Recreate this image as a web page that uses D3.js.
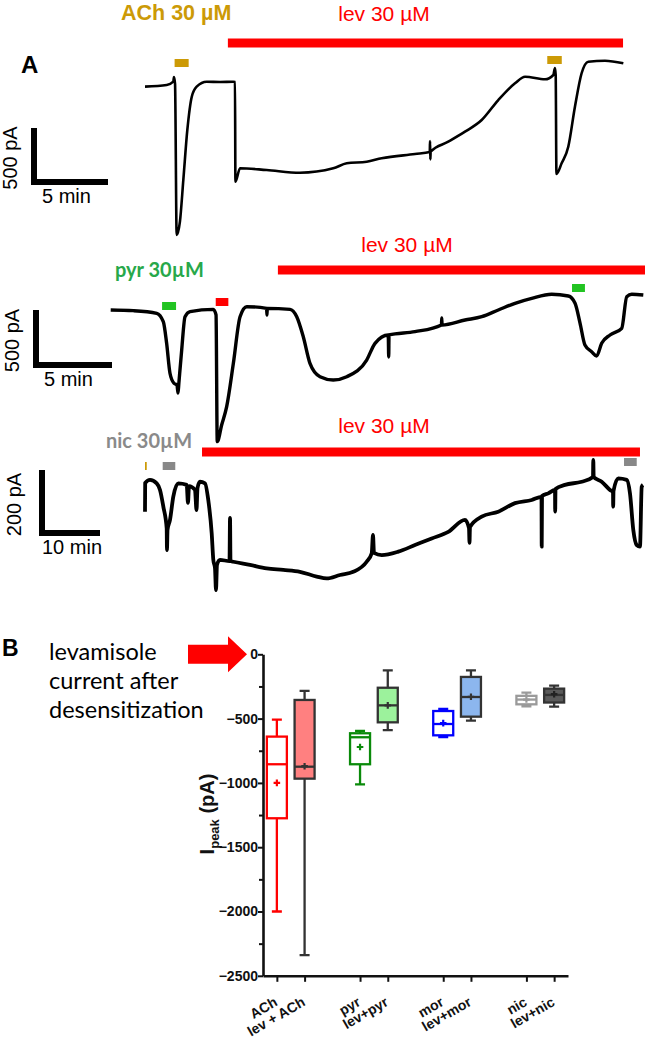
<!DOCTYPE html>
<html>
<head>
<meta charset="utf-8">
<script src="https://cdn.jsdelivr.net/npm/d3@7"></script>
<style>
  body { margin: 0; background: #fff; }
  text { font-family: "Liberation Sans", Arial, sans-serif; }
</style>
</head>
<body>
<div id="app"></div>
<script>
// ---- panel A: recordings, [time (min), current (pA)] ----
const trace1 = [
  [0,-6],[1.47,9],[1.91,40],[1.96,83],[2.03,19],[2.14,-1380],[2.36,-1256],[2.59,-870],
  [2.86,-407],[3.16,-99],[3.49,-6],[4.17,40],[5.07,37],[5.97,40],[6.08,37],[6.11,-886],
  [6.42,-762],[8.22,-778],[10.47,-803],[12.72,-762],[13.63,-716],[14.98,-701],[15.99,-669],
  [18.24,-630],[19.24,-612],[19.26,-510],[19.28,-680],[19.3,-608],[20.49,-516],[21.62,-423],
  [22.75,-315],[23.87,-130],[25.0,25],[25.68,86],[27.03,62],[27.59,102],[27.7,167],[27.75,102],
  [27.8,-815],[28.15,-716],[28.6,-562],[29.05,-192],[29.5,118],[29.95,225],[31.08,234],[32.32,210]
];
const trace2 = [
  [0,0],[1.49,-6],[3.03,-30],[3.46,-106],[3.68,-303],[3.9,-575],[4.16,-666],[4.36,-682],
  [4.43,-755],[4.48,-673],[4.67,-364],[4.89,-61],[5.22,-15],[6.75,6],[6.93,-45],[7.01,-1197],
  [7.3,-1045],[7.63,-879],[8.07,-485],[8.51,-61],[8.95,30],[10.26,15],[10.28,-45],[10.3,15],
  [11.8,6],[12.24,-61],[12.67,-243],[13.11,-485],[13.77,-606],[14.64,-636],[15.53,-606],
  [16.84,-455],[17.39,-303],[18.26,-227],[18.29,-427],[18.31,-227],[20.02,-197],[21.76,-136],
  [21.78,-73],[21.8,-136],[23.31,-91],[24.41,-61],[25.5,0],[26.6,61],[27.7,106],[29.01,143],
  [30.11,127],[30.55,61],[30.88,-121],[31.2,-318],[31.64,-379],[31.97,-418],[32.3,-303],
  [32.85,-227],[33.62,-166],[33.95,121],[34.28,143],[35.04,136]
];
const trace3 = [
  [0,-91],[0.03,0],[0.86,10],[2.02,-1],[2.59,-22],[3.16,-75],[3.74,-144],[3.79,-213],
  [3.88,-149],[4.31,-117],[4.88,-43],[5.74,-1],[7.19,-6],[7.41,-63],[7.59,-10],[8.62,-22],
  [8.88,-86],[9.05,-16],[9.48,4],[10.34,-1],[10.91,-54],[11.5,-160],[11.78,-244],[12.07,-271],
  [12.24,-340],[12.41,-260],[12.93,-244],[14.57,-248],[14.66,-111],[14.74,-248],[15.22,-250],
  [18.1,-260],[20.98,-271],[23.84,-276],[26.72,-282],[29.6,-297],[31.33,-303],[33.62,-292],
  [35.91,-282],[38.22,-250],[39.09,-223],[39.31,-165],[39.48,-222],[40.81,-229],[43.67,-218],
  [46.55,-197],[49.43,-176],[52.29,-155],[55.17,-117],[55.86,-143],[55.95,-190],[56.03,-140],
  [58.05,-107],[60.91,-91],[63.79,-64],[66.67,-54],[68.36,-44],[68.4,-202],[68.45,-41],
  [69.53,-33],[70.69,-22],[70.72,-91],[70.78,-19],[72.41,-6],[75.29,4],[77.24,19],[77.29,73],
  [77.36,19],[78.74,4],[80.17,-22],[80.69,-29],[80.72,-75],[80.78,-25],[81.6,15],[83.05,10],
  [83.62,-33],[84.19,-149],[84.78,-197],[85.34,-202],[85.64,-12],[85.86,-6]
];

// drug applications: [drug, start (min), end (min)]
const applications1 = [["ACh",2.0,2.95],["ACh",27.18,28.16]];
const applications2 = [["pyr",3.38,4.3],["lev",6.91,7.74],["pyr",30.35,31.2]];
const applications3 = [["ACh",0,0.3],["nic",3.05,5.22],["nic",82.59,84.78]];
const levPeriods = [[5.6,32.3],[11.0,35.3],[9.83,85.34]];

// ---- panel B: peak currents (pA) ----
const categories = ["ACh","lev + ACh","pyr","lev+pyr","mor","lev+mor","nic","lev+nic"];
const whiskerLow  = [-2000,-2340,-1011,-589,-643,-516,-404,-407];
const q1          = [-1275,-967,-855,-529,-630,-485,-389,-375];
const medians     = [-855,-874,-645,-397,-542,-332,-352,-316];
const q3          = [-640,-355,-614,-260,-441,-176,-323,-267];
const whiskerHigh = [-508,-285,-596,-125,-425,-125,-298,-243];
const means       = [-1000,-870,-721,-397,-535,-330,-352,-310];
const yTicks = [0,-500,-1000,-1500,-2000,-2500];
const yMinorTicks = [-250,-750,-1250,-1750,-2250];

// ---- styles ----
const drugColor = { ACh: "#cc9a06", pyr: "#22c422", lev: "#ff0000", nic: "#888888" };
const boxStroke = ["#ff0000","#333","#0a8a0a","#333","#0000ff","#333","#9a9a9a","#333"];
const boxFill   = ["#fff","#ff8080","#fff","#9cf29c","#fff","#8cb6ee","#fff","#5a5a5a"];
const meanColor = ["#ff0000","#333","#0a8a0a","#333","#0000ff","#333","#9a9a9a","#222"];

const svg = d3.select("#app").append("svg")
  .attr("width", 645).attr("height", 1041);

// per-trace scales (scale bars drawn from the same scales)
const panels = [
  { data: trace1, apps: applications1, lev: levPeriods[0],
    x: d3.scaleLinear().domain([0, 5]).range([145, 219]),
    y: d3.scaleLinear().domain([0, -500]).range([86, 140]),
    width: 2.6, levY: 43, barTop: [59, 56],
    sb: { x: 34, yTop: 128, t: 5, i: 500, tLabel: "5 min", iLabel: "500 pA", lx: 17, tx: 42 } },
  { data: trace2, apps: applications2, lev: levPeriods[1],
    x: d3.scaleLinear().domain([0, 5]).range([110.7, 186.7]),
    y: d3.scaleLinear().domain([0, -500]).range([310, 365]),
    width: 3.4, levY: 270, barTop: [302, 298, 284],
    sb: { x: 36, yTop: 310, t: 5, i: 500, tLabel: "5 min", iLabel: "500 pA", lx: 19, tx: 44 } },
  { data: trace3, apps: applications3, lev: levPeriods[2],
    x: d3.scaleLinear().domain([0, 10]).range([145, 203]),
    y: d3.scaleLinear().domain([0, -200]).range([483, 546]),
    width: 3.8, levY: 452, barTop: [462, 462, 458],
    sb: { x: 42, yTop: 470, t: 10, i: 200, tLabel: "10 min", iLabel: "200 pA", lx: 21, tx: 42 } }
];

panels.forEach(p => {
  const g = svg.append("g");
  // levamisole bar
  g.append("rect")
    .attr("x", p.x(p.lev[0])).attr("width", Math.min(645, p.x(p.lev[1])) - p.x(p.lev[0]))
    .attr("y", p.levY - 4.5).attr("height", 9).attr("fill", "#ff0000");
  // short applications
  g.selectAll("rect.app").data(p.apps).join("rect").attr("class", "app")
    .attr("x", d => p.x(d[1])).attr("width", d => Math.max(1.6, p.x(d[2]) - p.x(d[1])))
    .attr("y", (d, i) => p.barTop[i]).attr("height", 8)
    .attr("fill", d => drugColor[d[0]]);
  // trace
  g.append("path").datum(p.data)
    .attr("d", d3.line().curve(d3.curveMonotoneX).x(d => p.x(d[0])).y(d => p.y(d[1])))
    .attr("fill", "none").attr("stroke", "#000")
    .attr("stroke-width", p.width).attr("stroke-linejoin", "round");
  // scale bar
  const s = p.sb;
  const h = p.y(-s.i) - p.y(0), w = p.x(s.t) - p.x(0);
  g.append("path")
    .attr("d", `M${s.x},${s.yTop}V${s.yTop + h}H${s.x + w}`)
    .attr("fill", "none").attr("stroke", "#000").attr("stroke-width", 6);
  g.append("text").attr("transform", `translate(${s.lx},${s.yTop + h / 2 + 3}) rotate(-90)`)
    .attr("text-anchor", "middle").attr("font-size", 20).text(s.iLabel);
  g.append("text").attr("x", s.tx).attr("y", s.yTop + h + 21)
    .attr("font-size", 20).text(s.tLabel);
});

// panel A labels
svg.append("text").attr("x", 21).attr("y", 73).attr("font-size", 24).attr("font-weight", "bold").text("A");
svg.append("text").attr("x", 121).attr("y", 20).attr("font-size", 21.5).attr("font-weight", "bold")
  .attr("fill", drugColor.ACh).text("ACh 30 µM");
[[384, 21], [407, 252], [384, 433]].forEach(([x, y]) => {
  svg.append("text").attr("x", x).attr("y", y).attr("text-anchor", "middle")
    .attr("font-size", 21).attr("fill", "#ff0000").text("lev 30 µM");
});
svg.append("text").attr("x", 115).attr("y", 277).attr("font-size", 20).attr("font-weight", "bold")
  .style("font-family", "Lato, sans-serif").attr("fill", "#27a84a").text("pyr 30µM");
svg.append("text").attr("x", 106).attr("y", 448).attr("font-size", 20).attr("font-weight", "bold")
  .style("font-family", "Lato, sans-serif").attr("fill", "#8a8a8a").text("nic 30µM");

// ---- panel B ----
const xB = d3.scaleLinear().domain([-0.5, 10.5]).range([263, 568]);
const slot = i => i + Math.floor(i / 2);
const yB = d3.scaleLinear().domain([0, -2500]).range([654.3, 975.8]);

svg.append("text").attr("x", 2).attr("y", 656).attr("font-size", 23).attr("font-weight", "bold").text("B");
svg.append("text").style("font-family", "Lato, sans-serif").attr("font-size", 23.5)
  .selectAll("tspan").data(["levamisole", "current after", "desensitization"]).join("tspan")
  .attr("x", 49).attr("y", (d, i) => 660 + i * 29).text(d => d);
// arrow pointing at zero
svg.append("path")
  .attr("d", `M188,${yB(0) - 9.5}H228V${yB(0) - 18}L247,${yB(0)}L228,${yB(0) + 18}V${yB(0) + 9.5}H188Z`)
  .attr("fill", "#ff0000");

const yAxis = svg.append("g").attr("transform", "translate(263,0)")
  .call(d3.axisLeft(yB).tickValues(yTicks).tickSize(5).tickSizeOuter(0).tickFormat(d3.format("d")));
svg.append("g").attr("transform", "translate(263,0)")
  .call(d3.axisLeft(yB).tickValues(yMinorTicks).tickSize(4).tickFormat(""))
  .call(g => g.select(".domain").remove());
const xAxis = svg.append("g").attr("transform", `translate(0,${yB(-2500)})`)
  .call(d3.axisBottom(xB).tickValues(categories.map((c, i) => slot(i))).tickSize(6).tickSizeOuter(0)
    .tickFormat((d, i) => categories[i]));
svg.selectAll(".domain").attr("stroke", "#111").attr("stroke-width", 2.6);
svg.selectAll(".tick line").attr("stroke", "#111").attr("stroke-width", 2);
yAxis.selectAll("text").attr("font-size", 14).attr("font-weight", "bold").attr("fill", "#111")
  .attr("x", -5).attr("font-family", "Liberation Sans, Arial, sans-serif");
xAxis.selectAll("text").attr("font-size", 14).attr("font-weight", "bold").attr("fill", "#111")
  .attr("font-family", "Liberation Sans, Arial, sans-serif")
  .attr("x", null).attr("y", null).attr("dy", null).attr("text-anchor", "end")
  .attr("transform", "translate(1,29) rotate(-30)");

const yTitle = svg.append("text").attr("transform", "translate(214,814) rotate(-90)")
  .attr("text-anchor", "middle").attr("font-weight", "bold").attr("font-size", 20).attr("fill", "#111");
yTitle.append("tspan").text("I");
yTitle.append("tspan").attr("font-size", 13).attr("dy", 5).text("peak");
yTitle.append("tspan").attr("dy", -5).text(" (pA)");

const boxes = svg.append("g");
categories.forEach((c, i) => {
  const cx = xB(slot(i));
  const g = boxes.append("g").attr("stroke", boxStroke[i]).attr("stroke-width", 2.3).attr("fill", "none");
  g.append("path").attr("d",
    `M${cx},${yB(whiskerHigh[i])}V${yB(q3[i])}M${cx},${yB(q1[i])}V${yB(whiskerLow[i])}` +
    `M${cx - 5},${yB(whiskerHigh[i])}H${cx + 5}M${cx - 5},${yB(whiskerLow[i])}H${cx + 5}`);
  g.append("rect").attr("x", cx - 10).attr("width", 20)
    .attr("y", yB(q3[i])).attr("height", yB(q1[i]) - yB(q3[i])).attr("fill", boxFill[i]);
  g.append("line").attr("x1", cx - 10).attr("x2", cx + 10)
    .attr("y1", yB(medians[i])).attr("y2", yB(medians[i]));
  boxes.append("path").attr("d", d3.symbol(d3.symbolCross, 24)())
    .attr("transform", `translate(${cx},${yB(means[i])})`).attr("fill", meanColor[i]);
});
</script>
</body>
</html>
